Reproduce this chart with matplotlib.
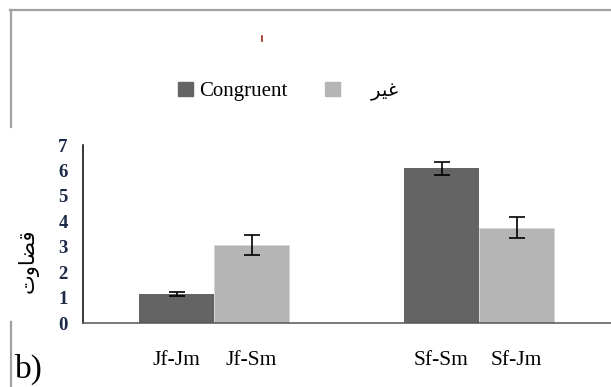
import numpy as np
import matplotlib.pyplot as plt
from matplotlib.lines import Line2D
from matplotlib.patches import Patch

# data
pairs = ["Jf-Jm", "Jf-Sm", "Sf-Sm", "Sf-Jm"]
congruent = [1.13, 6.08]
congruent_err = [0.08, 0.26]
incongruent = [3.08, 3.75]
incongruent_err = [0.40, 0.41]
yticks = [0, 1, 2, 3, 4, 5, 6, 7]

# Arabic in presentation forms, visual order (matplotlib does no shaping)
label_ghayr = "\uFEAE\uFEF4\uFECF"              # غير
label_qadavat = "\uFE95\uFEED\uFE8E\uFEC0\uFED7"  # قضاوت

dark = "#646464"
light = "#b4b5b4"
W, H = 611, 387

fig = plt.figure(figsize=(W / 100, H / 100), dpi=100)
ax = fig.add_axes([83 / W, 1 - 323 / H, 528 / W, 178 / H])

w = 75 / 265
groups = np.arange(2)
ax.bar(groups - w / 2, congruent, w, color=dark, yerr=congruent_err,
       error_kw=dict(ecolor="black", elinewidth=1.2, capsize=6, capthick=1.2))
ax.bar(groups + w / 2, incongruent, w, color=light, edgecolor="#d6d6d6", linewidth=0.6,
       yerr=incongruent_err,
       error_kw=dict(ecolor="black", elinewidth=1.2, capsize=6, capthick=1.2))

ax.set_xlim(-131 / 265, 397 / 265)
ax.set_ylim(0, 7)
ax.set_yticks(yticks)
ax.set_yticklabels([str(t) for t in yticks], family="Liberation Serif",
                   fontsize=13.5, color="#1c2a48", fontweight="bold")
ax.set_xticks(np.concatenate([groups - w / 2, groups + w / 2])[[0, 2, 1, 3]])
ax.set_xticklabels(pairs, family="Liberation Serif", fontsize=15.5)
ax.tick_params(axis="y", length=0, pad=11)
ax.tick_params(axis="x", length=0, pad=20)
for s in ["top", "right"]:
    ax.spines[s].set_visible(False)
ax.spines["left"].set_color("black")
ax.spines["bottom"].set_color("#555555")
ax.spines["left"].set_linewidth(1.1)
ax.spines["bottom"].set_linewidth(1.1)

fig.text(28 / W, 1 - 261 / H, label_qadavat, rotation=90, ha="center", va="center",
         family="DejaVu Sans", fontsize=15)

fig.text(15 / W, 1 - 378 / H, "b)", family="Liberation Serif", fontsize=24,
         ha="left", va="baseline")

# frame pieces around the legend panel and the b) panel
gray = "#a0a0a0"
fig.add_artist(Line2D([10 / W, 1], [1 - 10 / H, 1 - 10 / H], color=gray, lw=1.6))
fig.add_artist(Line2D([11 / W, 11 / W], [1 - 10 / H, 1 - 127 / H], color=gray, lw=1.6))
fig.add_artist(Line2D([11 / W, 11 / W], [0, 1 - 322 / H], color=gray, lw=1.6))
fig.add_artist(Line2D([262 / W, 262 / W], [1 - 36 / H, 1 - 41 / H], color="#9b2a1a", lw=1.2))

handles = [Patch(color=dark), Patch(color=light)]
leg = fig.legend(handles, ["Congruent", "    " + label_ghayr], loc="center left",
                 bbox_to_anchor=(178 / W, 1 - 91 / H), ncol=2, frameon=False,
                 prop=dict(family="Liberation Serif", size=15),
                 handlelength=0.72, handleheight=0.68, handletextpad=0.3,
                 columnspacing=1.8, borderpad=0, borderaxespad=0)
leg.get_texts()[1].set_family("DejaVu Sans")
leg.get_texts()[1].set_fontsize(14)

fig.savefig("out.png", dpi=100)
